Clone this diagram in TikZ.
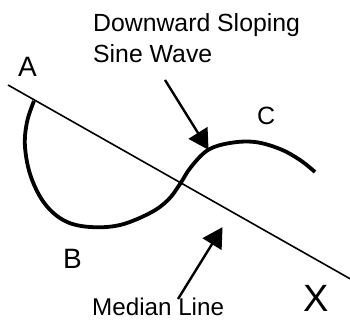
\documentclass[tikz,border=0pt]{standalone}
\usepackage{fontspec}
\setmainfont{Liberation Sans}
\usetikzlibrary{arrows.meta}

\begin{document}
\begin{tikzpicture}[
  x=1pt, y=-1pt,
  lbl/.style={inner sep=0pt, anchor=base west, font=\fontsize{24.8}{31}\selectfont},
  letter/.style={inner sep=0pt, anchor=base west, font=\fontsize{28}{32}\selectfont},
  median/.style={line width=1.6pt},
  wave/.style={line width=3.8pt, line join=round},
  arr/.style={-{Triangle[length=20pt, width=22pt]}, line width=2.4pt, shorten >=-1pt}
]
\useasboundingbox (0,0) rectangle (350,320);

% labels
\node[lbl] (slopeLbl) at (93,32) {Downward Sloping};
\node[lbl] (waveLbl) at (93,63) {Sine Wave};
\node[lbl, font=\fontsize{24.2}{30}\selectfont] (medLbl) at (92,315) {Median Line};
\node[letter] (lblA) at (18,77) {A};
\node[letter] (lblB) at (63,268) {B};
\node[letter, font=\fontsize{25}{30}\selectfont] (lblC) at (257,125) {C};
\node[letter, font=\fontsize{38}{42}\selectfont] (lblX) at (303,311) {X};

% median line
\coordinate (lineStart) at (8,85);
\coordinate (lineEnd) at (354,281);
\draw[median] (lineStart) -- (lineEnd);

% the wave
\draw[wave] plot[smooth, tension=0.6] coordinates {
  (34,101) (27,122) (25,147) (31,177) (45,204) (65,221) (90,227)
  (120,225) (150,213) (168,200) (180,184) (191,167) (208,150)
  (230,143) (255,142) (280,149) (300,160) (315,172)};

% pointers
\coordinate (waveTail) at (165,80);
\coordinate (waveTip) at (208,149);
\coordinate (medTail) at (178,299);
\coordinate (medTip) at (222,228);
\draw[arr] (waveTail) -- (waveTip);
\draw[arr] (medTail) -- (medTip);
\end{tikzpicture}
\end{document}
